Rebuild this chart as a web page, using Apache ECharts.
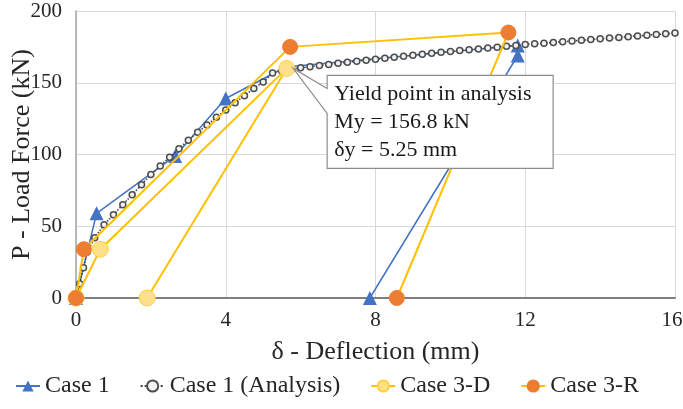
<!DOCTYPE html>
<html>
<head>
<meta charset="utf-8">
<script src="https://cdn.jsdelivr.net/npm/echarts@6/dist/echarts.min.js"></script>
<style>
  html, body { margin: 0; padding: 0; background: #fff; }
  #chart { width: 683px; height: 409px; }
</style>
</head>
<body>
<div id="chart"></div>
<script>
// Load–deflection test results and the analytical curve
const seriesNames = ['Case 1', 'Case 1 (Analysis)', 'Case 3-D', 'Case 3-R'];

// Case 1 test (deflection mm, load kN)
const case1X = [0, 0.55, 2.65, 4.0, 5.6, 11.8, 11.8, 7.85];
const case1Y = [0, 59, 99, 139, 161, 176, 169, 0];

// Case 1 analysis curve
const analysisX = [
  0, 0.1, 0.2, 0.3, 0.5, 0.75, 1.0, 1.25, 1.5, 1.75, 2.0, 2.25, 2.5, 2.75,
  3.0, 3.25, 3.5, 3.75, 4.0, 4.25, 4.5, 4.75, 5.0, 5.25, 5.5, 5.75, 6.0,
  6.25, 6.5, 6.75, 7.0, 7.25, 7.5, 7.75, 8.0, 8.25, 8.5, 8.75, 9.0, 9.25,
  9.5, 9.75, 10.0, 10.25, 10.5, 10.75, 11.0, 11.25, 11.5, 11.75, 12.0,
  12.25, 12.5, 12.75, 13.0, 13.25, 13.5, 13.75, 14.0, 14.25, 14.5, 14.75,
  15.0, 15.25, 15.5, 15.75, 16.0
];
const analysisY = [
  0, 10, 21, 32, 42, 51, 58, 65, 72, 79, 86, 92, 98, 104,
  110, 115.5, 120.5, 126, 131, 136, 141, 146, 150.5, 156.8, 158.3, 159.5, 160.4,
  161.2, 162.0, 162.8, 163.6, 164.3, 165.0, 165.7, 166.4, 167.1, 167.8, 168.5, 169.2, 169.9,
  170.6, 171.2, 171.8, 172.4, 173.0, 173.6, 174.2, 174.8, 175.4, 176.0, 176.6,
  177.1, 177.6, 178.1, 178.6, 179.1, 179.6, 180.1, 180.6, 181.1, 181.6, 182.1,
  182.6, 183.1, 183.6, 184.1, 184.6
];

// Case 3-D test
const case3dX = [0, 0.65, 5.63, 1.9];
const case3dY = [0, 34, 160, 0];

// Case 3-R test
const case3rX = [0, 0.21, 5.72, 11.55, 8.57];
const case3rY = [0, 34, 175, 185, 0];

// Axis ticks
const xTicks = [0, 4, 8, 12, 16];
const yTicks = [0, 50, 100, 150, 200];

// Callout text
const calloutLines = ['Yield point in analysis', 'My = 156.8 kN', 'δy = 5.25 mm'];
const calloutAnchor = [5.8, 160];

const pair = (xs, ys) => xs.map((x, i) => [x, ys[i]]);

const serif = '"Liberation Serif", "Times New Roman", serif';
const blue = '#4472C4';
const gold = '#FFC000';
const ink = '#262626';
const xMax = xTicks[xTicks.length - 1];

const chart = echarts.init(document.getElementById('chart'), null, { renderer: 'canvas' });

chart.setOption({
  animation: false,
  backgroundColor: '#ffffff',
  textStyle: { fontFamily: serif },
  grid: { left: 76, right: 8, top: 11, bottom: 111, containLabel: false, outerBoundsMode: 'none' },
  xAxis: {
    type: 'value',
    min: xTicks[0],
    max: xMax,
    interval: xTicks[1] - xTicks[0],
    name: 'δ - Deflection (mm)',
    nameLocation: 'middle',
    nameGap: 41,
    nameMoveOverlap: false,
    nameTextStyle: { fontFamily: serif, fontSize: 26, color: ink },
    axisLine: { onZero: false, lineStyle: { color: '#7F7F7F', width: 2 } },
    axisTick: { show: false },
    axisLabel: {
      fontFamily: serif, fontSize: 21, color: ink, margin: 12,
      // keep the last label inside the right edge
      formatter: v => (v === xMax ? '{end|' + v + '}' : String(v)),
      rich: { end: { fontFamily: serif, fontSize: 21, color: ink, padding: [0, 6, 0, 0] } }
    },
    splitLine: { show: true, lineStyle: { color: '#D9D9D9', width: 1 } }
  },
  yAxis: {
    type: 'value',
    min: yTicks[0],
    max: yTicks[yTicks.length - 1],
    interval: yTicks[1] - yTicks[0],
    name: 'P - Load Force (kN)',
    nameLocation: 'middle',
    nameGap: 41,
    nameMoveOverlap: false,
    nameTextStyle: { fontFamily: serif, fontSize: 26, color: ink },
    axisLine: { show: true, onZero: false, lineStyle: { color: '#A6A6A6', width: 1.5 } },
    axisTick: { show: false },
    axisLabel: { fontFamily: serif, fontSize: 21, color: ink, margin: 14 },
    splitLine: { show: true, lineStyle: { color: '#D9D9D9', width: 1 } }
  },
  legend: {
    bottom: 6,
    left: 10,
    itemGap: 30,
    itemWidth: 24,
    itemHeight: 14,
    textStyle: { fontFamily: serif, fontSize: 24, color: ink },
    data: seriesNames
  },
  series: [
    {
      name: seriesNames[0],
      type: 'line',
      data: pair(case1X, case1Y),
      symbol: 'triangle',
      symbolSize: 14,
      lineStyle: { color: blue, width: 1.5 },
      itemStyle: { color: blue },
      z: 2
    },
    {
      name: seriesNames[1],
      type: 'line',
      data: pair(analysisX, analysisY),
      symbol: 'circle',
      symbolSize: 6,
      showAllSymbol: true,
      lineStyle: { color: '#3A3F4A', width: 1.5, type: 'dotted' },
      itemStyle: { color: '#f2f2f2', borderColor: '#4D4D4D', borderWidth: 1.5 },
      z: 3
    },
    {
      name: seriesNames[2],
      type: 'line',
      data: pair(case3dX, case3dY),
      symbol: 'circle',
      symbolSize: 16,
      lineStyle: { color: gold, width: 2 },
      itemStyle: { color: '#FFE08A', borderColor: '#FFD23F', borderWidth: 1 },
      z: 4
    },
    {
      name: seriesNames[3],
      type: 'line',
      data: pair(case3rX, case3rY),
      symbol: 'circle',
      symbolSize: 15,
      lineStyle: { color: gold, width: 2 },
      itemStyle: { color: '#ED7D31', borderColor: '#ED7D31', borderWidth: 1 },
      z: 5
    }
  ]
});

// Callout box pointing at the analysis yield point
const tip = chart.convertToPixel({ gridIndex: 0 }, calloutAnchor);
const bx = tip[0] + 34, by = tip[1] + 7, bw = 226, bh = 93;
chart.setOption({
  graphic: [
    {
      type: 'polygon',
      z: 100,
      shape: {
        points: [
          [bx, by], [bx + bw, by], [bx + bw, by + bh], [bx, by + bh],
          [bx, by + 38], [tip[0], tip[1]], [bx, by + 13]
        ]
      },
      style: { fill: '#ffffff', stroke: '#8C8C8C', lineWidth: 1.2 }
    },
    {
      type: 'text',
      z: 101,
      left: bx + 7,
      top: by + 5,
      style: {
        text: calloutLines.join('\n'),
        font: '22px ' + serif,
        lineHeight: 28,
        fill: '#1a1a1a'
      }
    }
  ]
});
</script>
</body>
</html>
